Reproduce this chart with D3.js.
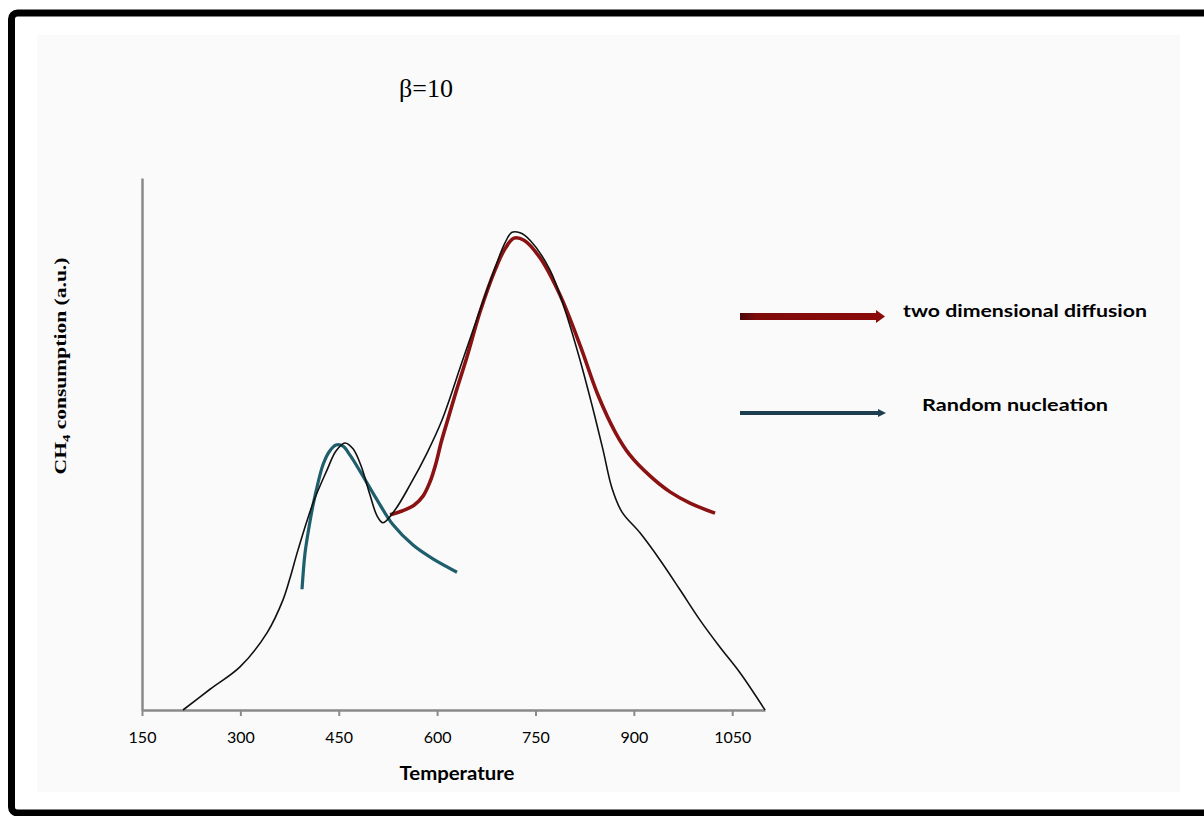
<!DOCTYPE html>
<html><head><meta charset="utf-8">
<script src="https://cdn.jsdelivr.net/npm/d3@7"></script>
<style>body{margin:0;background:#fff}svg{display:block}</style>
</head><body>
<svg id="c" width="1204" height="816"></svg>
<script>
// ---- data ----
const xTicks = [150, 300, 450, 600, 750, 900, 1050];
const title = "β=10";
const xLabel = "Temperature";
const seriesNames = ["two dimensional diffusion", "Random nucleation"];

// experimental curve (black)
const expT = [212.5,253.7,299.4,340.6,365.0,375.7,387.9,410.8,432.1,445.8,459.6,471.8,484.0,497.7,508.4,517.5,535.8,558.7,584.6,607.5,638.0,665.4,688.3,703.5,714.2,726.4,741.7,772.2,795.0,817.9,836.2,853.0,866.7,882.0,909.4,939.9,970.4,1000.9,1031.4,1061.9,1100];
const expV = [0,3.9,8.1,14.5,20.7,24.8,30.1,38.9,45.1,48.7,50.2,49.1,45.9,40.4,36.5,35.2,37.6,42.3,48.3,54.5,65.4,75.2,83.1,87.8,89.8,89.7,88.3,82.7,75.2,65.8,57.3,48.9,41.7,37.2,33.3,28.2,22.6,16.9,11.8,7.0,0];

// two dimensional diffusion fit (red)
const diffT = [528.2,546.5,564.8,578.5,589.2,598.3,605.9,615.1,628.8,645.6,665.4,688.3,703.5,717.3,732.5,756.9,787.4,817.9,845.3,871.3,894.1,924.6,955.1,985.6,1023.8];
const diffV = [36.7,37.4,38.5,40.2,42.9,46.4,50.2,54.1,59.8,66.4,74.8,82.7,86.7,88.7,88.3,85.0,78.0,68.6,59.2,52.3,47.9,44.0,41.0,38.9,37.0];

// random nucleation fit (blue)
const nucT = [394.0,398.6,404.7,410.8,418.4,426.0,435.2,445.8,456.5,467.2,482.4,508.4,532.8,563.3,593.7,630.3];
const nucV = [22.7,29.5,34.4,38.5,42.7,46.1,48.5,49.8,49.6,47.9,44.9,39.5,34.8,31.0,28.4,25.9];

// ---- drawing ----
const svg = d3.select("#c");
svg.append("rect").attr("x",37).attr("y",35).attr("width",1143).attr("height",757).attr("fill","#fafafa");
svg.append("rect").attr("x",11.5).attr("y",13).attr("width",1300).attr("height",800).attr("rx",6)
  .attr("fill","none").attr("stroke","#000").attr("stroke-width",7);

const x = d3.scaleLinear().domain([150,1100]).range([142,765]);
const y = d3.scaleLinear().domain([0,100]).range([710,178]);

// axes
const xAxis = d3.axisBottom(x).tickValues(xTicks).tickFormat(d3.format("d")).tickSize(6).tickSizeOuter(0).tickPadding(16);
const gx = svg.append("g").attr("transform","translate(0,710)").call(xAxis);
gx.select(".domain").attr("stroke","#8a8a8a").attr("stroke-width",2.5);
gx.selectAll(".tick line").attr("stroke","#8a8a8a").attr("stroke-width",2);
gx.selectAll(".tick text").attr("font-family","Lato, 'Open Sans', sans-serif").attr("font-size",16).attr("fill","#000");

const gy = svg.append("g").attr("transform","translate(142,0)").call(d3.axisLeft(y).tickValues([]).tickSizeOuter(0));
gy.select(".domain").attr("stroke","#8a8a8a").attr("stroke-width",2.5);

// labels
svg.append("text").attr("x",457).attr("y",780).attr("text-anchor","middle")
  .attr("font-family","Lato, sans-serif").attr("font-weight","bold").attr("font-size",18)
  .attr("textLength",115).attr("lengthAdjust","spacingAndGlyphs").attr("fill","#000").text(xLabel);

const ylg = svg.append("g").attr("transform","translate(66,366) rotate(-90)");
const yl = ylg.append("text").attr("text-anchor","middle")
  .attr("font-family","'Liberation Serif', 'DejaVu Serif', serif").attr("font-weight","bold").attr("font-size",16).attr("fill","#000");
yl.append("tspan").text("CH");
yl.append("tspan").attr("font-size",11).attr("dy",4).text("4");
yl.append("tspan").attr("dy",-4).text(" consumption (a.u.)");
const L = yl.node().getBBox().width;
yl.attr("transform",`scale(${217/L},1)`);

svg.append("text").attr("x",426).attr("y",97).attr("text-anchor","middle")
  .attr("font-family","'Liberation Serif', serif").attr("font-size",26).attr("fill","#000").text(title);

// curves
const line = d3.line().x(d=>x(d[0])).y(d=>y(d[1])).curve(d3.curveCatmullRom.alpha(0.5));
const zip = (a,b)=>a.map((t,i)=>[t,b[i]]);

svg.append("path").datum(zip(nucT,nucV)).attr("d",line).attr("fill","none")
  .attr("stroke","#1f5e6c").attr("stroke-width",3.2);
svg.append("path").datum(zip(diffT,diffV)).attr("d",line).attr("fill","none")
  .attr("stroke","#8a1212").attr("stroke-width",3.6);
svg.append("path").datum(zip(expT,expV)).attr("d",line).attr("fill","none")
  .attr("stroke","#111").attr("stroke-width",1.6);

// legend arrows
const defs = svg.append("defs");
const grad = defs.append("linearGradient").attr("id","rg");
grad.append("stop").attr("offset","0").attr("stop-color","#4a0a0a");
grad.append("stop").attr("offset","0.12").attr("stop-color","#7e0a0a");
grad.append("stop").attr("offset","1").attr("stop-color","#8b0a0a");
svg.append("rect").attr("x",740).attr("y",313).attr("width",138).attr("height",7).attr("fill","url(#rg)");
svg.append("path").attr("d","M876,310 L885,316.5 L876,323 Z").attr("fill","#8b0a0a");
svg.append("rect").attr("x",740).attr("y",411).attr("width",140).attr("height",4).attr("fill","#1d3e4e");
svg.append("path").attr("d","M878,409 L886,413 L878,417 Z").attr("fill","#1d3e4e");

svg.append("text").attr("x",903).attr("y",317).attr("font-family","Lato, sans-serif").attr("font-weight","bold")
  .attr("font-size",17).attr("textLength",244).attr("lengthAdjust","spacingAndGlyphs").attr("fill","#000").text(seriesNames[0]);
svg.append("text").attr("x",922).attr("y",411).attr("font-family","Lato, sans-serif").attr("font-weight","bold")
  .attr("font-size",17).attr("textLength",186).attr("lengthAdjust","spacingAndGlyphs").attr("fill","#000").text(seriesNames[1]);
</script>
</body></html>
